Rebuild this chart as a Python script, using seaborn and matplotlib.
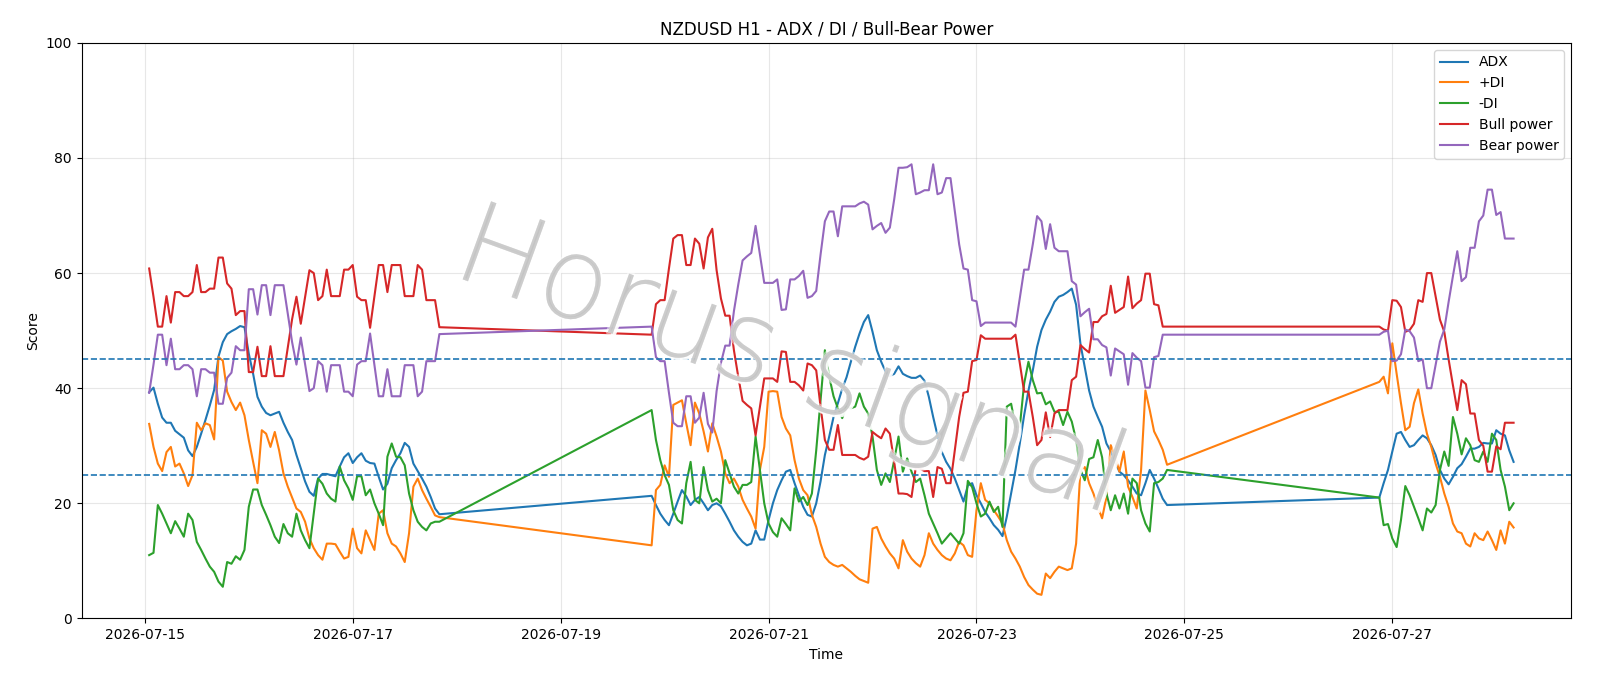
import matplotlib
matplotlib.use("Agg")
import matplotlib.pyplot as plt
import matplotlib.dates as mdates
import matplotlib.patheffects as pe
import seaborn as sns
import pandas as pd
import numpy as np

# ---- hourly timestamps (three trading blocks, weekend gaps) ----
seg_starts = ["2026-07-15 01:00", "2026-07-19 21:00", "2026-07-26 21:00"]
seg_lengths = [68, 120, 32]
x_limits = ["2026-07-14 09:24", "2026-07-28 17:18"]

# ---- series values, block 1 ----
bull_1 = [60.8, 55.9, 50.7, 50.7, 56.0, 51.4, 56.7, 56.7, 56.0, 56.0,
          56.7, 61.4, 56.7, 56.7, 57.3, 57.3, 62.7, 62.7, 58.2, 57.3,
          52.7, 53.4, 53.4, 42.8, 42.8, 47.2, 42.1, 42.1, 47.3, 42.1,
          42.1, 42.1, 47.0, 52.0, 55.9, 51.2, 55.9, 60.5, 60.0, 55.3,
          56.0, 60.6, 56.0, 56.0, 56.0, 60.6, 60.6, 61.4, 55.9, 55.3,
          55.3, 50.5, 56.0, 61.4, 61.4, 56.7, 61.4, 61.4, 61.4, 56.0,
          56.0, 56.0, 61.4, 60.6, 55.3, 55.3, 55.3, 50.6]
bear_1 = [39.2, 44.1, 49.3, 49.3, 44.0, 48.6, 43.3, 43.3, 44.0, 44.0,
          43.3, 38.6, 43.3, 43.3, 42.7, 42.7, 37.3, 37.3, 41.8, 42.7,
          47.3, 46.6, 46.6, 57.2, 57.2, 52.8, 57.9, 57.9, 52.7, 57.9,
          57.9, 57.9, 53.0, 48.0, 44.1, 48.8, 44.1, 39.5, 40.0, 44.7,
          44.0, 39.4, 44.0, 44.0, 44.0, 39.4, 39.4, 38.6, 44.1, 44.7,
          44.7, 49.5, 44.0, 38.6, 38.6, 43.3, 38.6, 38.6, 38.6, 44.0,
          44.0, 44.0, 38.6, 39.4, 44.7, 44.7, 44.7, 49.4]
adx_1 = [39.3, 40.1, 37.3, 34.9, 34.0, 34.0, 32.6, 32.0, 31.4, 29.2,
         28.2, 29.8, 32.1, 34.5, 37.0, 39.7, 45.5, 48.0, 49.4, 49.9,
         50.3, 50.8, 50.6, 46.0, 42.5, 38.5, 36.8, 35.7, 35.3, 35.6,
         35.9, 34.0, 32.4, 31.0, 28.4, 26.1, 23.8, 22.0, 21.3, 24.3,
         25.1, 25.1, 24.9, 24.7, 26.4, 28.0, 28.7, 27.0, 28.0, 28.7,
         27.4, 27.0, 26.9, 24.6, 22.4, 23.4, 26.1, 27.5, 28.7, 30.5,
         29.8, 26.9, 25.6, 24.3, 22.9, 21.1, 19.1, 18.1]
pdi_1 = [33.8, 29.8, 26.9, 25.6, 28.9, 29.8, 26.4, 26.9, 25.2, 23.0,
         24.9, 34.0, 32.7, 33.9, 33.6, 31.1, 45.4, 44.8, 39.4, 37.6,
         36.2, 37.5, 35.3, 31.0, 27.2, 23.5, 32.7, 32.1, 29.8, 32.4,
         29.2, 25.2, 22.9, 21.0, 19.1, 18.5, 16.8, 13.9, 12.2, 11.0,
         10.2, 13.0, 13.0, 12.9, 11.6, 10.4, 10.7, 15.6, 12.2, 11.3,
         15.3, 13.6, 11.9, 18.2, 18.8, 14.8, 13.0, 12.5, 11.3, 9.8,
         14.8, 22.9, 24.3, 22.3, 20.8, 19.4, 17.9, 17.6]
mdi_1 = [11.0, 11.4, 19.7, 18.2, 16.5, 14.8, 16.9, 15.6, 14.2, 18.2,
         17.1, 13.3, 11.9, 10.4, 9.0, 8.1, 6.4, 5.5, 9.8, 9.5,
         10.8, 10.2, 11.9, 19.4, 22.4, 22.4, 19.7, 18.0, 16.2, 14.2,
         13.1, 16.4, 14.8, 14.2, 18.2, 15.3, 13.6, 12.2, 18.2, 24.3,
         23.4, 21.7, 20.8, 20.3, 26.4, 24.0, 22.6, 20.6, 24.7, 24.7,
         21.4, 22.4, 20.0, 18.2, 16.2, 28.1, 30.4, 28.1, 28.0, 26.6,
         21.7, 18.8, 16.8, 15.9, 15.3, 16.5, 16.8, 16.8]

# ---- block 2 ----
bull_2 = [49.3, 54.6, 55.3, 55.3, 60.8, 66.0, 66.6, 66.6, 61.4, 61.4,
          66.0, 65.1, 60.8, 66.2, 67.7, 60.5, 55.6, 52.6, 52.6, 46.6,
          42.0, 37.8, 37.1, 36.5, 31.8, 36.8, 41.7, 41.7, 41.7, 41.1,
          46.4, 46.3, 41.1, 41.1, 40.5, 39.6, 44.3, 44.0, 43.1, 36.8,
          31.0, 29.3, 29.3, 33.6, 28.4, 28.4, 28.4, 28.4, 27.9, 27.6,
          28.1, 32.4, 31.8, 31.3, 33.0, 32.1, 27.2, 21.7, 21.7, 21.6,
          21.1, 26.3, 26.0, 25.6, 25.6, 21.1, 26.3, 26.0, 23.5, 23.5,
          29.2, 35.0, 39.2, 39.4, 44.7, 44.9, 49.2, 48.6, 48.6, 48.6,
          48.6, 48.6, 48.6, 48.6, 49.3, 44.3, 39.4, 39.4, 35.0, 30.1,
          31.0, 35.8, 31.5, 35.6, 36.2, 36.2, 36.2, 41.4, 42.0, 47.5,
          46.8, 46.2, 51.5, 51.5, 52.5, 52.9, 57.8, 53.1, 53.6, 54.1,
          59.4, 53.9, 54.7, 55.3, 59.9, 59.9, 54.6, 54.4, 50.7, 50.7]
bear_2 = [50.7, 45.4, 44.7, 44.7, 39.2, 34.0, 33.4, 33.4, 38.6, 38.6,
          34.0, 34.9, 39.2, 33.8, 32.3, 39.5, 44.4, 47.4, 47.4, 53.4,
          58.0, 62.2, 62.9, 63.5, 68.2, 63.2, 58.3, 58.3, 58.3, 58.9,
          53.6, 53.7, 58.9, 58.9, 59.5, 60.4, 55.7, 56.0, 56.9, 63.2,
          69.0, 70.7, 70.7, 66.4, 71.6, 71.6, 71.6, 71.6, 72.1, 72.4,
          71.9, 67.6, 68.2, 68.7, 67.0, 67.9, 72.8, 78.3, 78.3, 78.4,
          78.9, 73.7, 74.0, 74.4, 74.4, 78.9, 73.7, 74.0, 76.5, 76.5,
          70.8, 65.0, 60.8, 60.6, 55.3, 55.1, 50.8, 51.4, 51.4, 51.4,
          51.4, 51.4, 51.4, 51.4, 50.7, 55.7, 60.6, 60.6, 65.0, 69.9,
          69.0, 64.2, 68.5, 64.4, 63.8, 63.8, 63.8, 58.6, 58.0, 52.5,
          53.2, 53.8, 48.5, 48.5, 47.5, 47.1, 42.2, 46.9, 46.4, 45.9,
          40.6, 46.1, 45.3, 44.7, 40.1, 40.1, 45.4, 45.6, 49.3, 49.3]
adx_2 = [21.3, 19.7, 18.2, 17.1, 16.2, 18.2, 20.3, 22.3, 21.2, 19.7,
         20.6, 21.1, 20.0, 18.8, 19.7, 20.0, 19.5, 18.2, 16.8, 15.3,
         14.2, 13.3, 12.7, 13.0, 15.3, 13.7, 13.7, 17.1, 20.0, 22.3,
         24.0, 25.5, 25.8, 23.5, 21.4, 19.4, 18.0, 17.7, 20.0, 23.8,
         28.4, 31.6, 35.0, 37.4, 39.9, 41.9, 44.6, 47.2, 49.5, 51.5,
         52.7, 49.8, 46.6, 44.6, 42.9, 42.1, 42.5, 43.8, 42.5, 42.1,
         41.8, 41.8, 42.2, 41.3, 38.5, 35.0, 31.8, 28.9, 27.2, 26.0,
         24.3, 22.3, 20.3, 23.1, 23.5, 21.4, 20.0, 18.5, 17.4, 16.2,
         15.4, 14.3, 17.7, 21.7, 25.8, 30.4, 35.3, 39.6, 43.1, 47.2,
         50.1, 51.9, 53.3, 55.0, 55.9, 56.2, 56.7, 57.3, 54.5, 47.7,
         43.7, 39.6, 36.8, 35.0, 33.3, 30.4, 29.0, 27.2, 25.5, 24.9,
         24.0, 22.9, 21.7, 21.4, 23.5, 25.8, 24.3, 22.6, 20.8, 19.7]
pdi_2 = [12.7, 22.3, 23.2, 26.6, 24.6, 37.1, 37.5, 37.9, 33.9, 30.1,
         37.5, 35.6, 32.5, 29.0, 33.9, 31.6, 29.0, 25.2, 23.5, 24.3,
         22.9, 20.6, 19.1, 17.7, 15.6, 25.8, 29.8, 39.4, 39.5, 39.4,
         35.0, 33.0, 31.8, 27.5, 24.3, 22.3, 21.4, 18.0, 15.9, 13.0,
         10.7, 9.8, 9.3, 9.0, 9.3, 8.7, 8.1, 7.4, 6.8, 6.5,
         6.2, 15.6, 15.9, 13.9, 12.5, 11.3, 10.4, 8.7, 13.6, 11.6,
         10.4, 9.6, 9.0, 11.0, 14.8, 13.0, 11.9, 11.0, 10.4, 10.1,
         11.3, 13.3, 12.7, 11.0, 10.7, 18.8, 23.5, 20.6, 20.0, 18.8,
         17.7, 16.5, 13.6, 11.6, 10.4, 9.0, 7.2, 5.8, 5.0, 4.3,
         4.1, 7.8, 7.0, 8.1, 9.0, 8.7, 8.4, 8.7, 13.0, 25.8,
         26.3, 23.5, 21.7, 19.4, 17.4, 21.1, 30.1, 28.1, 25.5, 29.0,
         22.9, 21.1, 19.1, 25.8, 39.6, 36.2, 32.5, 31.0, 29.3, 26.7]
mdi_2 = [36.2, 31.0, 27.5, 24.9, 23.2, 18.8, 17.1, 16.5, 23.5, 27.2,
         20.6, 20.0, 26.3, 22.3, 20.3, 20.8, 20.0, 27.5, 25.2, 22.9,
         21.7, 23.2, 23.2, 23.7, 31.6, 25.8, 20.0, 16.5, 15.0, 14.2,
         17.4, 16.4, 15.3, 22.6, 20.3, 21.1, 19.7, 21.7, 29.2, 37.9,
         46.6, 42.0, 38.6, 36.5, 34.8, 36.8, 36.5, 36.8, 39.1, 36.8,
         35.6, 31.6, 25.8, 23.2, 25.2, 23.7, 27.5, 31.6, 25.5, 27.8,
         25.5, 23.7, 24.3, 21.4, 18.2, 16.5, 14.8, 13.0, 13.9, 14.8,
         13.9, 13.0, 14.8, 23.9, 22.8, 20.0, 17.7, 18.2, 20.3, 18.5,
         19.4, 15.9, 36.8, 37.3, 33.3, 33.3, 40.8, 44.6, 41.4, 39.1,
         39.2, 37.2, 37.7, 35.9, 35.9, 33.6, 35.9, 34.2, 31.0, 25.8,
         24.0, 27.7, 28.0, 31.0, 28.0, 21.7, 18.8, 21.4, 19.1, 21.7,
         18.2, 24.3, 23.5, 18.8, 16.5, 15.1, 23.5, 23.7, 24.3, 25.8]

# ---- block 3 ----
bull_3 = [50.7, 50.2, 50.0, 55.3, 55.2, 54.1, 49.8, 50.1, 51.2, 55.3,
          55.0, 60.0, 60.0, 56.0, 51.9, 49.8, 45.0, 40.5, 36.2, 41.4,
          40.7, 35.6, 35.6, 31.0, 30.0, 25.5, 25.5, 29.9, 29.4, 34.0,
          34.0, 34.0]
bear_3 = [49.3, 49.8, 50.0, 44.7, 44.8, 45.9, 50.2, 49.9, 48.8, 44.7,
          45.0, 40.0, 40.0, 44.0, 48.1, 50.2, 55.0, 59.5, 63.8, 58.6,
          59.3, 64.4, 64.4, 69.0, 70.0, 74.5, 74.5, 70.1, 70.6, 66.0,
          66.0, 66.0]
adx_3 = [21.0, 23.5, 25.8, 29.0, 32.1, 32.4, 31.0, 29.8, 30.1, 31.0,
         31.8, 31.3, 30.1, 28.4, 25.8, 24.3, 23.3, 24.6, 26.1, 26.8,
         28.1, 29.5, 29.5, 29.8, 30.5, 30.4, 30.4, 32.7, 32.1, 31.8,
         29.2, 27.2]
pdi_3 = [41.1, 42.0, 39.1, 47.8, 42.5, 37.4, 32.7, 33.3, 37.4, 39.8,
         35.6, 32.1, 29.8, 26.9, 24.6, 21.7, 19.4, 16.5, 15.1, 14.8,
         13.0, 12.5, 14.8, 13.9, 13.6, 15.1, 13.6, 11.9, 15.3, 13.0,
         16.8, 15.8]
mdi_3 = [21.0, 16.2, 16.4, 13.9, 12.4, 17.1, 23.0, 21.4, 19.4, 17.4,
         15.3, 19.1, 18.4, 19.7, 25.8, 29.0, 26.5, 35.0, 32.1, 28.5,
         31.3, 30.1, 27.5, 27.2, 29.0, 27.2, 32.1, 31.0, 25.8, 22.9,
         18.8, 20.0]

series_names = ["ADX", "+DI", "-DI", "Bull power", "Bear power"]
series_colors = ["#1f77b4", "#ff7f0e", "#2ca02c", "#d62728", "#9467bd"]
threshold_levels = [45, 25]
x_tick_dates = ["2026-07-15", "2026-07-17", "2026-07-19", "2026-07-21",
                "2026-07-23", "2026-07-25", "2026-07-27"]

times = pd.DatetimeIndex(np.concatenate([
    pd.date_range(s, periods=n, freq="h").values
    for s, n in zip(seg_starts, seg_lengths)]))

values = {
    "ADX": adx_1 + adx_2 + adx_3,
    "+DI": pdi_1 + pdi_2 + pdi_3,
    "-DI": mdi_1 + mdi_2 + mdi_3,
    "Bull power": bull_1 + bull_2 + bull_3,
    "Bear power": bear_1 + bear_2 + bear_3,
}

fig = plt.figure(figsize=(16, 6.86), dpi=100)
ax = fig.add_axes([0.051, 0.0985, 0.931, 0.839])

for name, col in zip(series_names, series_colors):
    sns.lineplot(x=times, y=values[name], ax=ax, color=col, label=name,
                 linewidth=1.5, sort=False)

for lvl in threshold_levels:
    ax.axhline(lvl, color="#1f77b4", linestyle="--", linewidth=1.2)

ax.set_xlim(pd.to_datetime(x_limits[0]), pd.to_datetime(x_limits[1]))
ax.set_ylim(0, 100)
ax.set_yticks([0, 20, 40, 60, 80, 100])
ax.set_xticks(pd.to_datetime(x_tick_dates))
ax.xaxis.set_major_formatter(mdates.DateFormatter("%Y-%m-%d"))
ax.grid(True, alpha=0.3)
ax.set_title("NZDUSD H1 - ADX / DI / Bull-Bear Power", fontsize=12)
ax.set_xlabel("Time")
ax.set_ylabel("Score")
ax.legend(loc="upper right")

ax.text(0.476, 0.44, "Horus signal", transform=ax.transAxes,
        ha="center", va="center", rotation=-20, fontsize=82,
        family="DejaVu Sans", fontweight=200,
        color="#c2c2c2", alpha=0.7, zorder=5,
        path_effects=[pe.withSimplePatchShadow(offset=(2, -2),
                                               shadow_rgbFace="white",
                                               alpha=0.9),
                      pe.withStroke(linewidth=3, foreground="white",
                                    alpha=0.5)])

fig.savefig("out.png", dpi=100)
